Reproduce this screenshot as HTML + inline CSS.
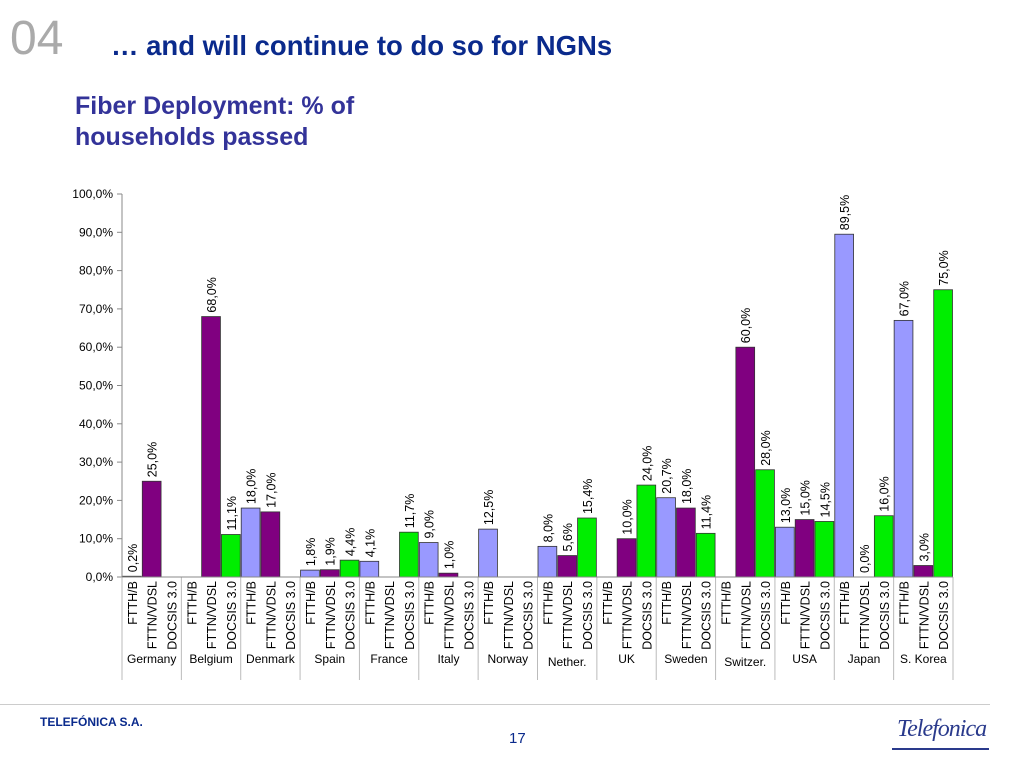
<!DOCTYPE html>
<html><head><meta charset="utf-8">
<style>
body{margin:0;width:1024px;height:768px;background:#fff;overflow:hidden;font-family:"Liberation Sans",sans-serif;position:relative}
.abs{position:absolute}
</style></head><body>
<div class="abs" style="left:10px;top:12px;font-size:48px;color:#aaa;line-height:54px">04</div>
<div class="abs" style="left:111px;top:30px;font-size:27.5px;font-weight:bold;color:#0a2a8c">… and will continue to do so for NGNs</div>
<div class="abs" style="left:75px;top:91px;font-size:25px;font-weight:bold;color:#333399;line-height:31px">Fiber Deployment: % of<br>households passed</div>
<svg class="abs" style="left:0;top:0" width="1024" height="768" id="chart"></svg>
<div class="abs" style="left:0;top:704px;width:990px;height:1px;background:#ccc"></div>
<div class="abs" style="left:40px;top:715px;font-size:12px;font-weight:bold;color:#0a2a8c">TELEFÓNICA S.A.</div>
<div class="abs" style="left:509px;top:730px;font-size:15px;color:#0a2a8c">17</div>
<div class="abs" style="left:897px;top:716px;font-size:24px;font-style:italic;font-family:'Liberation Serif',serif;color:#2a3a8c;letter-spacing:-1px">Telefonica</div>
<div class="abs" style="left:892px;top:748px;width:97px;height:2px;background:#2a3a8c"></div>
<script>
const countries=["Germany","Belgium","Denmark","Spain","France","Italy","Norway","Nether.","UK","Sweden","Switzer.","USA","Japan","S. Korea"];
const techs=["FTTH/B","FTTN/VDSL","DOCSIS 3.0"];
const ftth=[0.2,null,18.0,1.8,4.1,9.0,12.5,8.0,null,20.7,null,13.0,89.5,67.0];
const fttn=[25.0,68.0,17.0,1.9,null,1.0,null,5.6,10.0,18.0,60.0,15.0,0.0,3.0];
const docsis=[null,11.1,null,4.4,11.7,null,null,15.4,24.0,11.4,28.0,14.5,16.0,75.0];
const yTicks=[0,10,20,30,40,50,60,70,80,90,100];
const colors=["#9999ff","#800080","#00ee00"];
const svg=document.getElementById('chart');
const NS='http://www.w3.org/2000/svg';
const x0=122,x1=953,y0=577,yTop=194;
const slot=(x1-x0)/(countries.length*3);
const y=v=>y0-(v/100)*(y0-yTop);
function mk(t,a,txt){const e=document.createElementNS(NS,t);for(const k in a)e.setAttribute(k,a[k]);if(txt!=null)e.textContent=txt;svg.appendChild(e);return e;}
const fmt=v=>v.toFixed(1).replace('.',',')+'%';
yTicks.forEach(t=>{
 const l=mk('line',{x1:x0-5,x2:x0,y1:y(t),y2:y(t),stroke:'#888'});
 
 const tx=mk('text',{x:x0-9,y:y(t)+4,'text-anchor':'end','font-size':12,fill:'#000'},t.toFixed(1).replace('.',',')+'%');
 
});
const series=[ftth,fttn,docsis];
countries.forEach((c,i)=>{
 series.forEach((s,j)=>{
  const xi=x0+(i*3+j)*slot;const cx=xi+slot/2;
  const v=s[i];
  if(v!==null){
   const r=mk('rect',{x:xi+0.5,y:y(v),width:slot-1,height:y0-y(v),fill:colors[j],stroke:'#333','stroke-width':0.8});
   
   
   const vt=mk('text',{x:cx+5,y:y(v)-4,'text-anchor':'start','font-size':12.5,transform:`rotate(-90 ${cx+5} ${y(v)-4})`},fmt(v));
   
  }
  const ct=mk('text',{x:cx+5,y:581,'text-anchor':'end','font-size':12.5,transform:`rotate(-90 ${cx+5} 581)`},techs[j]);
  
 });
 const cxC=x0+(i*3+1.5)*slot;
 const low=(c==="Nether."||c==="Switzer.");
 const cl=mk('text',{x:cxC,y:low?666:663,'text-anchor':'middle','font-size':12},c);
 
});
for(let i=0;i<=countries.length;i++){
 const xs=x0+i*3*slot;
 const l=mk('line',{x1:xs,x2:xs,y1:y0,y2:680,stroke:'#bbb'});
 
}
const ax=mk('line',{x1:x0,x2:x0,y1:yTop,y2:y0,stroke:'#888'});

const bx=mk('line',{x1:x0,x2:x1,y1:y0,y2:y0,stroke:'#888'});

</script>
</body></html>
